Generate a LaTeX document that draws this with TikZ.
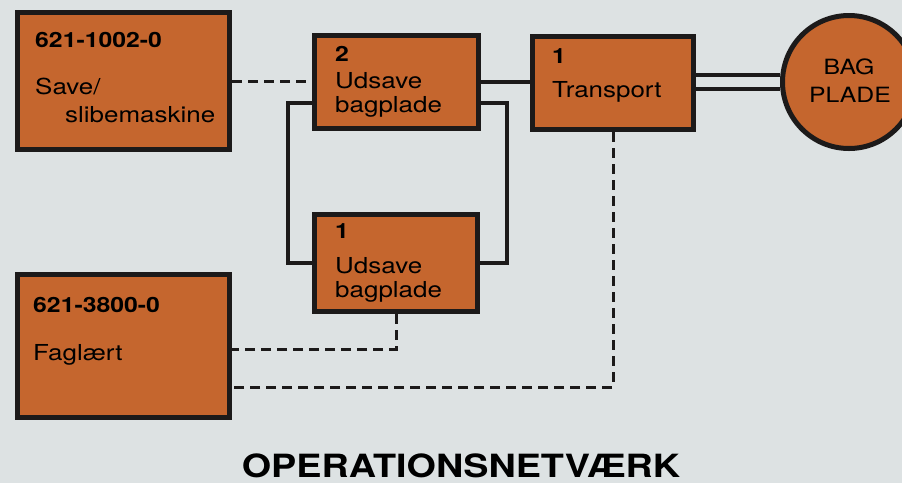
\documentclass[tikz,border=0pt]{standalone}
\usepackage{fontspec}
\setmainfont{TeX Gyre Heros}[FakeStretch=1.18]
\definecolor{paper}{RGB}{221,226,227}
\definecolor{rust}{RGB}{197,102,46}
\definecolor{ink}{RGB}{28,26,26}

\begin{document}
\begin{tikzpicture}[x=1pt,y=-1pt,
		box/.style={rectangle,draw=ink,fill=rust,line width=5pt,inner sep=0pt},
		txt/.style={anchor=base west,inner sep=0pt,font=\fontsize{22}{22}\selectfont},
		num/.style={txt,font=\fontsize{21}{21}\selectfont\bfseries},
		link/.style={draw=ink,line width=4pt},
		dashlink/.style={draw=ink,line width=3pt,dash pattern=on 10pt off 6pt}]
				\clip (0,0) rectangle (902,483);
				\fill[paper] (0,0) rectangle (902,483);
				% boxes
				\node[box,minimum width=212pt,minimum height=137pt] (a) at (123.5,81) {};
				\node[box,minimum width=164pt,minimum height=93pt] (b) at (396.5,82) {};
				\node[box,minimum width=161pt,minimum height=93pt] (t) at (613,83) {};
				\node[box,minimum width=163pt,minimum height=97pt] (c) at (396,263) {};
				\node[box,minimum width=212pt,minimum height=143pt] (d) at (123.5,346) {};
				\node[box,circle,minimum size=133pt] (bag) at (849,82) {};
				% texts
				\node[num] (a1) at (35,47) {621-1002-0};
				\node[txt] (a2) at (35,94) {Save/};
				\node[txt] (a3) at (65,122) {slibemaskine};
				\node[num] (b1) at (335,61) {2};
				\node[txt] (b2) at (335,88) {Udsave};
				\node[txt] (b3) at (335,112) {bagplade};
				\node[num] (t1) at (552,63) {1};
				\node[txt] (t2) at (552,97) {Transport};
				\node[num] (c1) at (335,238) {1};
				\node[txt] (c2) at (335,273) {Udsave};
				\node[txt] (c3) at (335,297) {bagplade};
				\node[num] (d1) at (33,312) {621-3800-0};
				\node[txt] (d2) at (33,360) {Faglært};
				\node[txt,anchor=base,font=\fontsize{21}{21}\selectfont] (bag1) at (849,74) {BAG};
				\node[txt,anchor=base,font=\fontsize{21}{21}\selectfont] (bag2) at (850,102) {PLADE};
				% connections
				\draw[dashlink] (a.east) -- (a.east -| b.west);
				\draw[link] (b.east) -- (b.east -| t.west);
				\draw[link] ([yshift=-21pt]b.west) -- ++(-24,0) |- (c.west);
				\draw[link] ([yshift=-21pt]b.east) -- ++(26,0) |- (c.east);
				\draw[link,double=paper,double distance=10pt] (bag.west -| t.east) -- (bag.west);
				\draw[dashlink] (c.south) |- ([yshift=-3pt]d.east);
				\draw[dashlink] (t.south) |- ([yshift=-41pt]d.east);
				\node[anchor=base,inner sep=0pt,font=\fontsize{32}{32}\selectfont\bfseries] (title) at (461,477) {OPERATIONSNETVÆRK};
			\end{tikzpicture}
\end{document}
